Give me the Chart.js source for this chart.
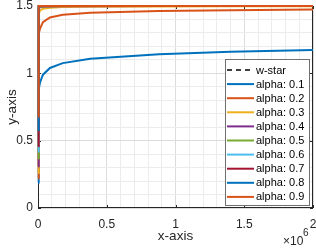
<!DOCTYPE html>
<html><head><meta charset="utf-8">
<script src="https://cdn.jsdelivr.net/npm/chart.js@4/dist/chart.umd.min.js"></script>
<style>html,body{margin:0;padding:0;background:#fff}#c{display:block}</style>
</head><body>
<canvas id="c" width="316" height="248"></canvas>
<script>
const xs = [0, 3000, 7000, 14000, 36000, 87000, 180000, 380000, 880000, 1400000, 2000000];
const wStar  = [1.5, 1.5, 1.5, 1.5, 1.5, 1.5, 1.5, 1.5, 1.5, 1.5, 1.5];
const alpha01 = [0.19, 0.80, 0.88, 0.93, 0.99, 1.04, 1.076, 1.108, 1.142, 1.16, 1.173];
const alpha02 = [0.22, 1.22, 1.29, 1.33, 1.38, 1.415, 1.435, 1.449, 1.462, 1.469, 1.474];
const alpha03 = [0.26, 1.40, 1.44, 1.465, 1.48, 1.487, 1.492, 1.495, 1.497, 1.498, 1.499];
const alpha04 = [0.31, 1.46, 1.48, 1.49, 1.495, 1.497, 1.498, 1.499, 1.5, 1.5, 1.5];
const alpha05 = [0.37, 1.48, 1.49, 1.495, 1.498, 1.499, 1.5, 1.5, 1.5, 1.5, 1.5];
const alpha06 = [0.42, 1.49, 1.495, 1.5, 1.5, 1.5, 1.5, 1.5, 1.5, 1.5, 1.5];
const alpha07 = [0.46, 1.495, 1.5, 1.5, 1.5, 1.5, 1.5, 1.5, 1.5, 1.5, 1.5];
const alpha08 = [0.58, 1.5, 1.5, 1.5, 1.5, 1.5, 1.5, 1.5, 1.5, 1.5, 1.5];
const alpha09 = [0.68, 1.5, 1.5, 1.5, 1.5, 1.5, 1.5, 1.5, 1.5, 1.5, 1.5];
const seriesLabels = ['w-star','alpha: 0.1','alpha: 0.2','alpha: 0.3','alpha: 0.4','alpha: 0.5','alpha: 0.6','alpha: 0.7','alpha: 0.8','alpha: 0.9'];
const seriesValues = [wStar, alpha01, alpha02, alpha03, alpha04, alpha05, alpha06, alpha07, alpha08, alpha09];
const colors = ['#000000','#0072BD','#D95319','#EDB120','#7E2F8E','#77AC30','#4DBEEE','#A2142F','#0072BD','#D95319'];
const xTickLabels = ['0','0.5','1','1.5','2'];
const yTickLabels = ['0','0.5','1','1.5'];

const FONT = "'Liberation Sans', Arial, Helvetica, sans-serif";
const TXT = '#262626';

const datasets = seriesValues.map((vals, i) => ({
  label: seriesLabels[i],
  data: vals.map((v, j) => ({x: xs[j], y: v})),
  borderColor: colors[i],
  borderWidth: i === 0 ? 1.5 : 2,
  borderDash: i === 0 ? [5, 4] : [],
  pointRadius: 0,
  fill: false,
  tension: 0,
  clip: false,
  order: seriesValues.length - i
}));

function isMajor(v, step) { const r = v / step; return Math.abs(r - Math.round(r)) < 1e-6; }

const framePlugin = {
  id: 'frame',
  beforeDatasetsDraw(chart) {
    const {ctx, chartArea: a, scales} = chart;
    ctx.save();
    ctx.strokeStyle = TXT; ctx.lineWidth = 1;
    ctx.strokeRect(Math.round(a.left) + 0.5, Math.round(a.top) + 0.5, Math.round(a.right - a.left) - 1, Math.round(a.bottom - a.top) - 1);
    const tl = 3;
    ctx.beginPath();
    scales.x.ticks.forEach(t => {
      if (!isMajor(t.value, 500000)) return;
      const px = Math.round(scales.x.getPixelForValue(t.value)) + 0.5;
      ctx.moveTo(px, a.bottom); ctx.lineTo(px, a.bottom - tl);
      ctx.moveTo(px, a.top); ctx.lineTo(px, a.top + tl);
    });
    scales.y.ticks.forEach(t => {
      if (!isMajor(t.value, 0.5)) return;
      const py = Math.round(scales.y.getPixelForValue(t.value)) + 0.5;
      ctx.moveTo(a.left, py); ctx.lineTo(a.left + tl, py);
      ctx.moveTo(a.right, py); ctx.lineTo(a.right - tl, py);
    });
    ctx.stroke();
    ctx.restore();
  },
  afterDraw(chart) {
    const {ctx} = chart;
    ctx.save();
    ctx.fillStyle = TXT;
    ctx.textBaseline = 'middle';
    ctx.textAlign = 'left';
    ctx.font = '12px ' + FONT;
    ctx.fillText('\u00d710', 283, 242);
    ctx.font = '10px ' + FONT;
    ctx.fillText('6', 303, 233);
    const bx = 225, by = 59, bw = 84, bh = 146;
    ctx.fillStyle = '#ffffff';
    ctx.fillRect(bx, by, bw, bh);
    ctx.strokeStyle = '#707070'; ctx.lineWidth = 1;
    ctx.strokeRect(bx + 0.5, by + 0.5, bw, bh);
    ctx.font = '11px ' + FONT;
    chart.data.datasets.forEach((ds, i) => {
      const y = 70 + i * 14.1;
      ctx.beginPath();
      ctx.strokeStyle = ds.borderColor;
      ctx.lineWidth = ds.borderWidth;
      ctx.setLineDash(ds.borderDash || []);
      ctx.moveTo(227, y); ctx.lineTo(254, y);
      ctx.stroke();
      ctx.setLineDash([]);
      ctx.fillStyle = '#000000';
      ctx.fillText(ds.label, 256, y + 0.5);
    });
    ctx.restore();
  }
};

new Chart(document.getElementById('c'), {
  type: 'line',
  data: {datasets},
  plugins: [framePlugin],
  options: {
    responsive: false,
    animation: false,
    layout: {padding: {top: 6, right: 3, left: 0, bottom: 0}},
    plugins: {legend: {display: false}, tooltip: {enabled: false}},
    scales: {
      x: {
        type: 'linear', min: 0, max: 2000000,
        afterFit(s) { s.height = 40; s.paddingLeft = 0; s.paddingRight = 0; },
        ticks: {
          stepSize: 100000, autoSkip: false, maxRotation: 0, padding: 9,
          color: TXT, font: {family: FONT, size: 12},
          callback(v) { return isMajor(v, 500000) ? xTickLabels[Math.round(v / 500000)] : ''; }
        },
        grid: {
          drawTicks: false,
          color(c) { return isMajor(c.tick.value, 500000) ? '#dcdcdc' : '#ececec'; },
          lineWidth: 1
        },
        border: {display: false},
        title: {display: true, text: 'x-axis', color: TXT, font: {family: FONT, size: 13.5}, padding: {top: 0, bottom: 4}}
      },
      y: {
        type: 'linear', min: 0, max: 1.5,
        afterFit(s) { s.width = 38; s.paddingTop = 0; s.paddingBottom = 0; },
        ticks: {
          stepSize: 0.1, autoSkip: false, padding: 5,
          color: TXT, font: {family: FONT, size: 12},
          callback(v) { return isMajor(v, 0.5) ? yTickLabels[Math.round(v / 0.5)] : ''; }
        },
        grid: {
          drawTicks: false,
          color(c) { return isMajor(c.tick.value, 0.5) ? '#dcdcdc' : '#ececec'; },
          lineWidth: 1
        },
        border: {display: false},
        title: {display: true, text: 'y-axis', color: TXT, font: {family: FONT, size: 13.5}, padding: {top: 4, bottom: 0}}
      }
    }
  }
});
</script>
</body></html>
